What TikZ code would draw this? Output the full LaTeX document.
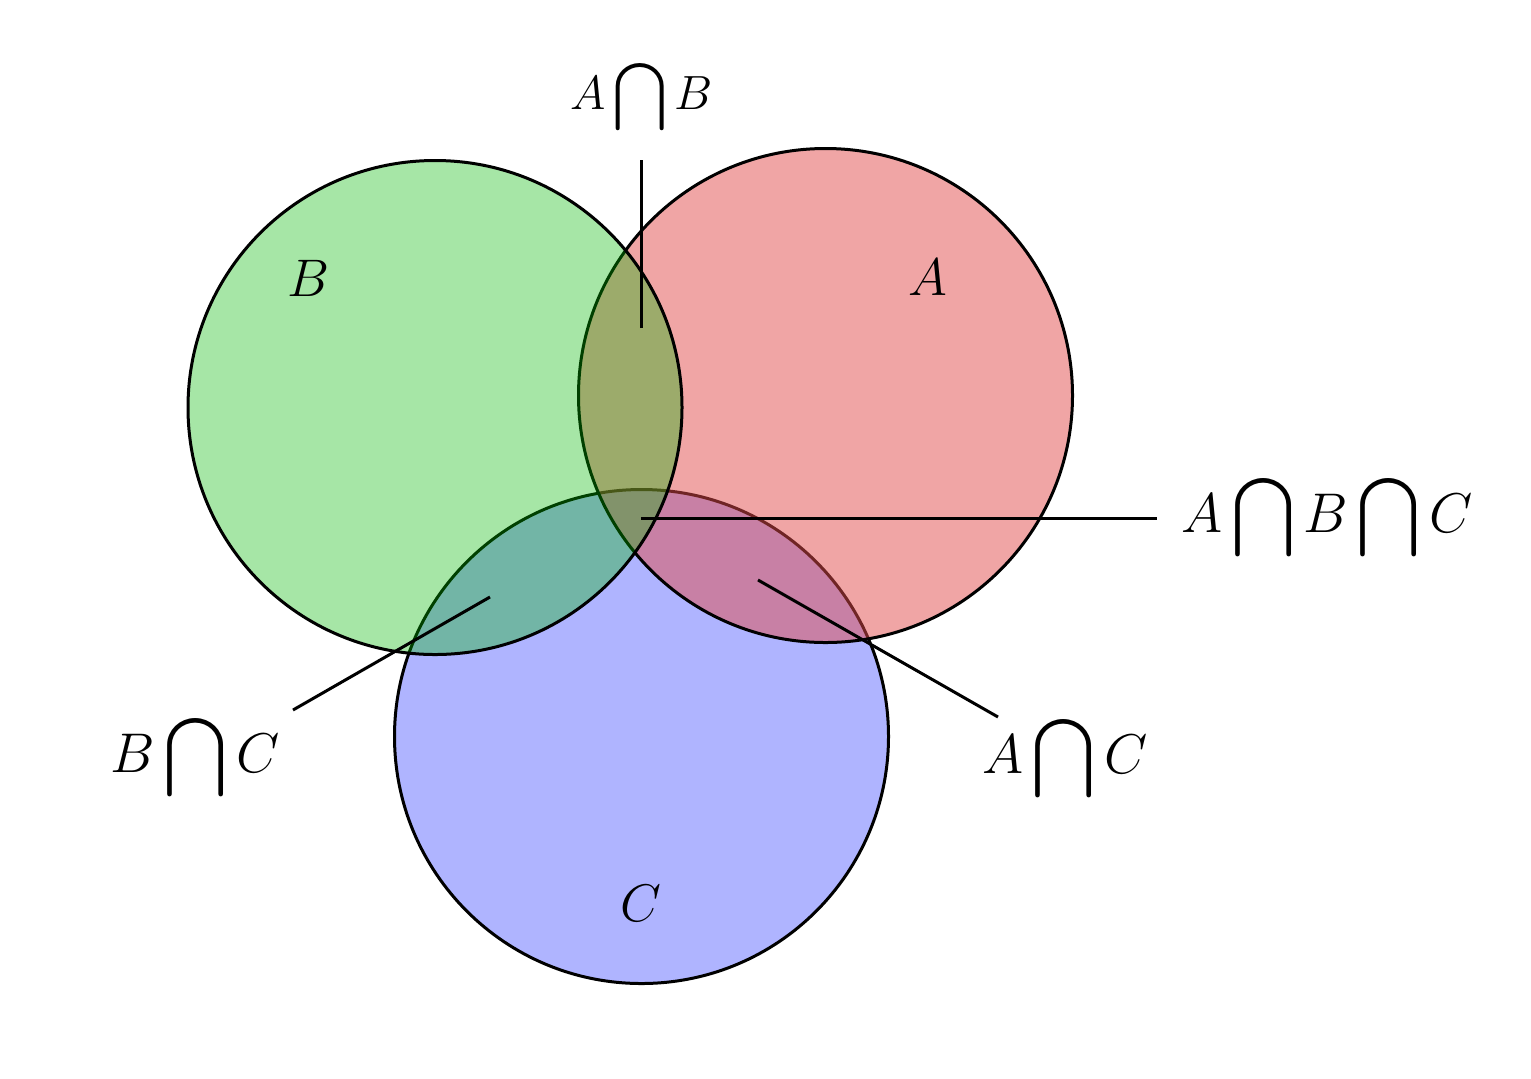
\documentclass[tikz,border=0pt]{standalone}
\usepackage{amsmath}
\definecolor{cA}{RGB}{225,75,75}
\definecolor{cB}{RGB}{0,184,0}
\definecolor{cC}{RGB}{26,40,255}
\begin{document}
\begin{tikzpicture}[x=0.5pt,y=-0.5pt,
  setc/.style={draw=black, line width=1.5pt, fill opacity=0.35},
  lead/.style={draw=black, line width=1.5pt},
  biglab/.style={inner sep=0pt, font=\LARGE, scale=1.62},
  toplab/.style={inner sep=0pt, font=\LARGE, scale=1.39},
  setlab/.style={inner sep=0pt, font=\LARGE, scale=1.53}]
\useasboundingbox (0,0) rectangle (1531,1078);
% circles: C first, then A, then B
\path[setc, fill=cC] (641.5,736.5) circle[radius=247];
\path[setc, fill=cA, fill opacity=0.5] (825.5,395.5) circle[radius=247];
\path[setc, fill=cB] (435,407.5) circle[radius=247];
% set labels
\node[setlab] (lA) at (928,277) {$A$};
\node[setlab] (lB) at (308,278) {$B$};
\node[setlab] (lC) at (641,903) {$C$};
% intersection labels
\node[toplab] (ab) at (641.5,97.5) {$\displaystyle A\bigcap B$};
\node[biglab] (abc) at (1327,518) {$\displaystyle A\bigcap B\bigcap C$};
\node[biglab] (bc) at (195,758) {$\displaystyle B\bigcap C$};
\node[biglab] (ac) at (1065,759) {$\displaystyle A\bigcap C$};
% leader end points
\coordinate (abIn) at (641,328);
\coordinate (abOut) at (641,160);
\coordinate (abcIn) at (641,518);
\coordinate (abcOut) at (1157,518);
\coordinate (bcIn) at (490,597);
\coordinate (bcOut) at (293,710);
\coordinate (acIn) at (758,580);
\coordinate (acOut) at (998,717);
\draw[lead] (abIn) -- (abOut);
\draw[lead] (abcIn) -- (abcOut);
\draw[lead] (bcIn) -- (bcOut);
\draw[lead] (acIn) -- (acOut);
\end{tikzpicture}
\end{document}
